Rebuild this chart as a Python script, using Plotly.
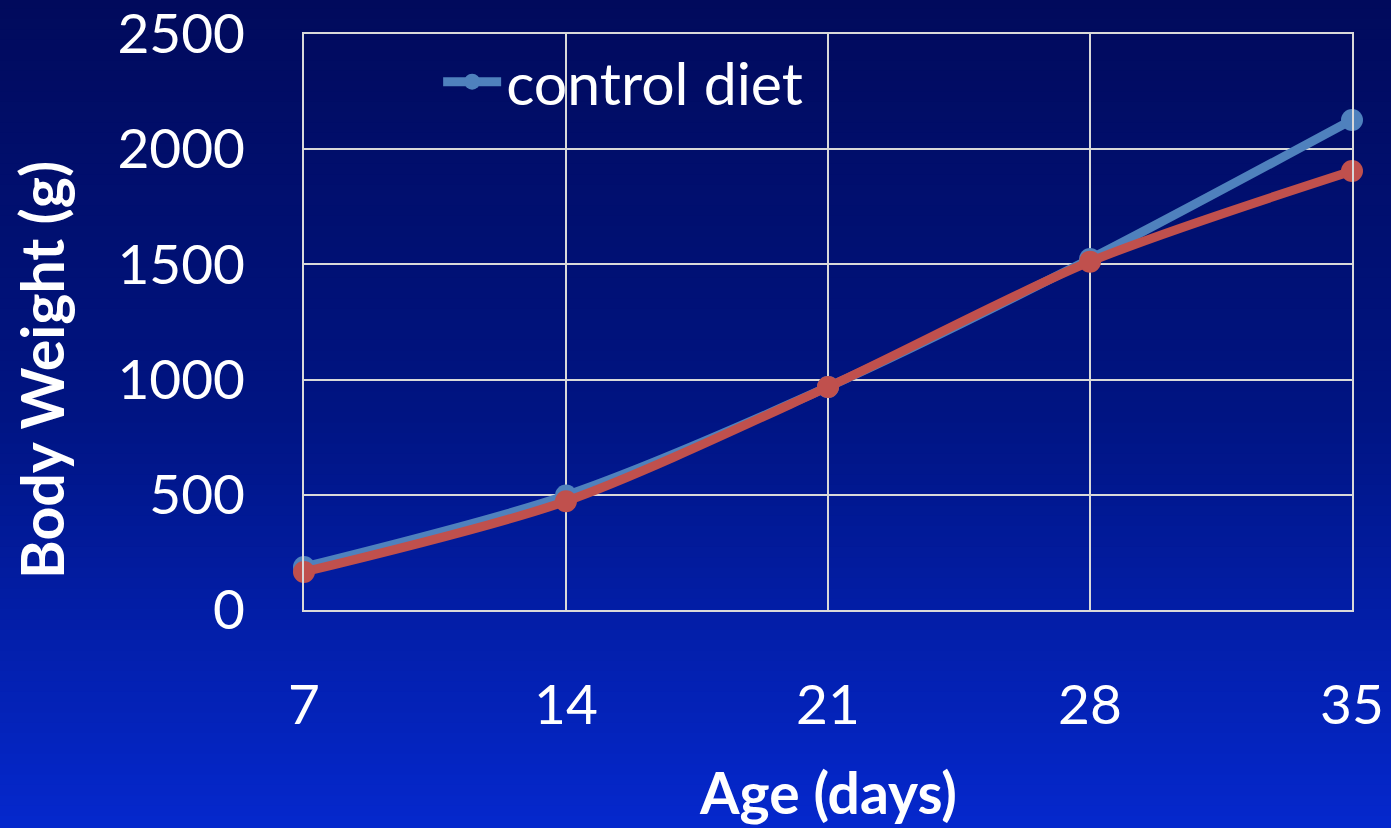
import plotly.graph_objects as go

age_days = [7, 14, 21, 28, 35]
control_diet = [187, 497, 968, 1523, 2127]
treatment_diet = [165, 472, 968, 1512, 1905]
y_ticks = [0, 500, 1000, 1500, 2000, 2500]
x_ticks = [7, 14, 21, 28, 35]

W, H = 1391, 828
ML, MR, MT, MB = 304, 39, 34, 218

fig = go.Figure()

fig.add_trace(go.Scatter(
    x=age_days, y=control_diet, name="control diet", mode="lines+markers",
    line=dict(color="#4f81bd", width=9, shape="spline", smoothing=0.8),
    marker=dict(color="#4f81bd", size=22), cliponaxis=False,
))
fig.add_trace(go.Scatter(
    x=age_days, y=treatment_diet, name="test diet", mode="lines+markers",
    line=dict(color="#c0504d", width=9, shape="spline", smoothing=0.8),
    marker=dict(color="#c0504d", size=22), showlegend=False, cliponaxis=False,
))

# background gradient strips (paper coords spanning whole page)
pw = W - ML - MR
ph = H - MT - MB
x0p = -ML / pw - 0.01
x1p = 1 + MR / pw + 0.01
top_c = (1, 10, 92)
mid_c = (0, 20, 130)
bot_c = (5, 40, 205)
n = 80
shapes = []
for i in range(n):
    t0 = i / n
    t1 = (i + 1) / n
    tm = (t0 + t1) / 2
    if tm < 0.5:
        a, b, f = top_c, mid_c, tm / 0.5
    else:
        a, b, f = mid_c, bot_c, (tm - 0.5) / 0.5
    c = tuple(round(a[k] + (b[k] - a[k]) * f) for k in range(3))
    y_top = (H - MB - t0 * H) / ph
    y_bot = (H - MB - t1 * H) / ph
    if i == 0:
        y_top += 0.01
    if i == n - 1:
        y_bot -= 0.01
    shapes.append(dict(type="rect", xref="paper", yref="paper",
                       x0=x0p, x1=x1p, y0=y_bot, y1=y_top + 0.003,
                       fillcolor="rgb(%d,%d,%d)" % c, line=dict(width=0),
                       layer="below"))

axis_common = dict(showgrid=True, gridcolor="#d9d9d9", gridwidth=2,
                   zeroline=False, showline=True, linecolor="#d9d9d9",
                   linewidth=2, mirror=True, ticks="", automargin=False,
                   ticklabeloverflow="allow",
                   tickfont=dict(size=55, color="white"))

fig.update_layout(
    width=W, height=H,
    margin=dict(l=ML, r=MR, t=MT, b=MB, autoexpand=False),
    paper_bgcolor="#000f70",
    plot_bgcolor="rgba(0,0,0,0)",
    font=dict(family="Lato, Open Sans, sans-serif", color="white"),
    shapes=shapes,
    showlegend=True,
    legend=dict(x=0.128, y=0.917, xanchor="left", yanchor="middle",
                bgcolor="rgba(0,0,0,0)", font=dict(size=59, color="white"),
                itemwidth=58),
    xaxis=dict(range=[7, 35], tickvals=x_ticks, ticklabelstandoff=46,
               **axis_common),
    yaxis=dict(range=[0, 2500], tickvals=y_ticks, ticklabelstandoff=46,
               **axis_common),
    annotations=[
        dict(text="<b>Age (days)</b>", xref="paper", yref="paper",
             x=0.5, y=(610 - 792) / ph, showarrow=False,
             font=dict(size=57, color="white"), xanchor="center", yanchor="middle"),
        dict(text="<b>Body Weight (g)</b>", xref="paper", yref="paper",
             x=(42 - ML) / pw, y=(610 - 370) / ph, textangle=-90, showarrow=False,
             font=dict(size=59, color="white"), xanchor="center", yanchor="middle"),
    ],
)

fig.write_html("out.html", config={"displayModeBar": False},
               post_script="document.body.style.margin='0';")
